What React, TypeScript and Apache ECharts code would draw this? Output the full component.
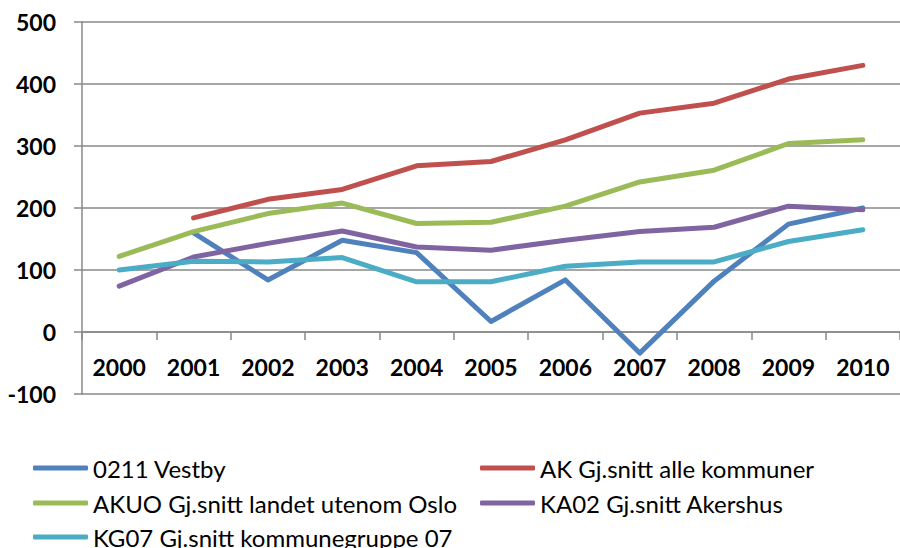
import React, { useEffect, useRef } from "react";
import * as echarts from "echarts";

const years = ["2000", "2001", "2002", "2003", "2004", "2005", "2006", "2007", "2008", "2009", "2010"];
const vestby = [null, 160, 84, 148, 128, 17, 84, -34, 82, 174, 200];
const akAlle = [null, 184, 214, 230, 268, 275, 310, 353, 369, 408, 430];
const akuo = [122, 162, 191, 208, 175, 177, 203, 242, 261, 304, 310];
const ka02 = [74, 121, 143, 163, 137, 132, 148, 162, 169, 203, 197];
const kg07 = [100, 114, 113, 120, 81, 81, 106, 113, 113, 146, 165];

const names = [
  "0211 Vestby",
  "AK Gj.snitt alle kommuner",
  "AKUO Gj.snitt landet utenom Oslo",
  "KA02 Gj.snitt Akershus",
  "KG07 Gj.snitt kommunegruppe 07",
];
const colors = ["#4F81BD", "#C0504D", "#9BBB59", "#8064A2", "#4BACC6"];
const seriesData = [vestby, akAlle, akuo, ka02, kg07];

const FONT = "Lato";
const GRAY = "#888888";

// legend slot positions (left, row-center)
const legendSlots = [
  [33, 468],
  [480, 468],
  [33, 503],
  [480, 503],
  [33, 537],
];

export default function App() {
  const ref = useRef<HTMLDivElement>(null);
  useEffect(() => {
    if (!ref.current) return;
    const chart = echarts.init(ref.current, undefined, { renderer: "svg" });
    const legends = names.map((n, i) => ({
      orient: "horizontal",
      icon: "roundRect",
      itemWidth: 55,
      itemHeight: 5,
      padding: 0,
      left: legendSlots[i][0],
      top: legendSlots[i][1] - 12,
      data: [n],
      textStyle: { fontFamily: FONT, fontSize: 24, color: "#000", lineHeight: 24 },
    }));
    chart.setOption({
      animation: false,
      color: colors,
      grid: { left: 82, right: -9, top: 22, bottom: 154, containLabel: false },
      legend: legends,
      xAxis: {
        type: "category",
        data: years,
        boundaryGap: true,
        axisLine: { show: true, onZero: true, lineStyle: { color: GRAY, width: 1.5 } },
        axisTick: { show: true, length: 8, lineStyle: { color: GRAY, width: 1.5 } },
        axisLabel: {
          interval: 0,
          margin: -39,
          fontFamily: FONT,
          fontSize: 23,
          fontWeight: "bold",
          color: "#000",
          lineHeight: 24,
        },
      },
      yAxis: {
        type: "value",
        min: -100,
        max: 500,
        interval: 100,
        axisLine: { show: true, lineStyle: { color: GRAY, width: 1.5 } },
        axisTick: { show: true, length: 8, lineStyle: { color: GRAY, width: 1.5 } },
        splitLine: { show: true, lineStyle: { color: GRAY, width: 1.5 } },
        axisLabel: {
          margin: 26,
          fontFamily: FONT,
          fontSize: 23,
          fontWeight: "bold",
          color: "#000",
        },
      },
      series: seriesData.map((d, i) => ({
        name: names[i],
        type: "line",
        data: d,
        showSymbol: false,
        symbol: "none",
        connectNulls: false,
        lineStyle: { width: 5, color: colors[i], cap: "round", join: "round" },
        itemStyle: { color: colors[i] },
      })),
    });
    return () => chart.dispose();
  }, []);
  return (
    <div
      ref={ref}
      style={{ position: "fixed", left: 0, top: 0, width: 900, height: 548, background: "#fff" }}
    />
  );
}
